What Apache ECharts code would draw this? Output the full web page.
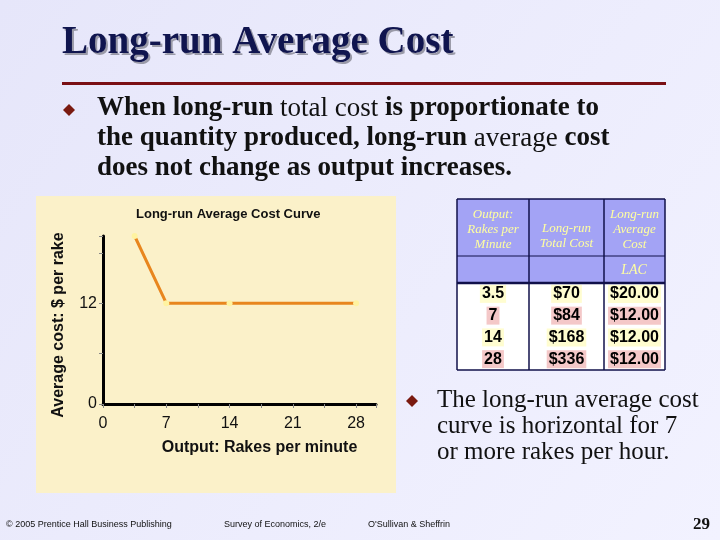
<!DOCTYPE html><html><head><meta charset="utf-8">
<script src="https://cdn.jsdelivr.net/npm/echarts@6/dist/echarts.min.js"></script>
<style>html,body{margin:0;padding:0}#c{width:720px;height:540px}</style></head><body><div id="c"></div>
<script>
const output = [3.5, 7, 14, 28];
const lac = [20, 12, 12, 12];
const xLabels = [0, 7, 14, 21, 28];
const yLabels = [0, 12];
const tableHead = ['Output:\nRakes per\nMinute', 'Long-run\nTotal Cost', 'Long-run\nAverage\nCost'];
const tableRows = [['3.5', '$70', '$20.00'], ['7', '$84', '$12.00'], ['14', '$168', '$12.00'], ['28', '$336', '$12.00']];

const colX = [457, 529, 604, 665];
const rowY0 = 283, rowH = 21.75;
const g = [];
g.push({type:'rect', z:-10, shape:{x:36,y:196,width:360,height:297}, style:{fill:'#FBF1C9'}});
g.push({type:'text', left:64, top:25, style:{text:'Long-run Average Cost', font:'bold 39px "Liberation Serif"', fill:'#9a9aa8'}});
g.push({type:'text', left:62, top:23, style:{text:'Long-run Average Cost', font:'bold 39px "Liberation Serif"', fill:'#10154f'}});
g.push({type:'rect', shape:{x:62,y:82,width:604,height:3}, style:{fill:'#7a0f14'}});
const bullet = (x,y,s)=>g.push({type:'polygon', shape:{points:[[x,y-s],[x+s,y],[x,y+s],[x-s,y]]}, style:{fill:'#7a1a10'}});
bullet(69,110,6); bullet(412,401,6);
const B = 'bold 27px "Liberation Serif"', N = '27px "Liberation Serif"';
g.push({type:'text', left:97, top:95, style:{
  text:'{b|When long-run }{n|total cost}{b| is proportionate to}\n{b|the quantity produced, long-run }{n|average}{b| cost}\n{b|does not change as output increases.}',
  rich:{b:{font:B, fill:'#111', lineHeight:30}, n:{font:N, fill:'#111', lineHeight:30}}}});
g.push({type:'text', left:437, top:387, style:{text:'The long-run average cost\ncurve is horizontal for 7\nor more rakes per hour.', font:'25px "Liberation Serif"', fill:'#111', lineHeight:26}});
g.push({type:'text', left:136, top:208, style:{text:'Long-run Average Cost Curve', font:'bold 13px "Liberation Sans"', fill:'#111'}});
g.push({type:'rect', shape:{x:457,y:199,width:208,height:84}, style:{fill:'#A3A3F5'}});
g.push({type:'rect', shape:{x:457,y:283,width:208,height:87}, style:{fill:'#ffffff'}});
tableHead.forEach((t,i)=>g.push({type:'text', x:(colX[i]+colX[i+1])/2, y:i==1?236:230, style:{text:t, font:'italic 13px "Liberation Serif"', fill:'#FFFFA0', align:'center', verticalAlign:'middle', lineHeight:15}}));
g.push({type:'text', x:634, y:270, style:{text:'LAC', font:'italic 14px "Liberation Serif"', fill:'#FFFFA0', align:'center', verticalAlign:'middle'}});
tableRows.forEach((r,ri)=>r.forEach((t,ci)=>{
  const cx=(colX[ci]+colX[ci+1])/2, cy=rowY0+rowH*(ri+0.5);
  g.push({type:'text', x:cx, y:cy, style:{text:t, font:'bold 16px "Liberation Sans"', fill:'#000', align:'center', verticalAlign:'middle', backgroundColor: ri%2? '#F4C8C8':'#FFFDD0', padding:[1,2]}});
}));
const L = (x1,y1,x2,y2,w)=>g.push({type:'line', shape:{x1,y1,x2,y2}, style:{stroke:'#10104a', lineWidth:w||1.5}});
L(457,199,665,199); L(457,256,665,256,1); L(457,283,665,283,2.5); L(457,370,665,370);
colX.forEach(x=>L(x,199,x,370));
const F='9px "Liberation Sans"';
g.push({type:'text', left:6, top:520, style:{text:'© 2005 Prentice Hall Business Publishing', font:F, fill:'#111'}});
g.push({type:'text', left:224, top:520, style:{text:'Survey of Economics, 2/e', font:F, fill:'#111'}});
g.push({type:'text', left:368, top:520, style:{text:'O\'Sullivan & Sheffrin', font:F, fill:'#111'}});
g.push({type:'text', left:693, top:516, style:{text:'29', font:'bold 17px "Liberation Serif"', fill:'#111'}});

const chart = echarts.init(document.getElementById('c'));
chart.setOption({
  backgroundColor: new echarts.graphic.LinearGradient(0,0,1,1,[{offset:0,color:'#E6E6FA'},{offset:1,color:'#F2F2FF'}]),
  graphic: g,
  grid:{left:103, right:344, top:236, bottom:136},
  xAxis:{type:'value', min:0, max:30.2, interval:3.5,
    name:'Output: Rakes per minute', nameLocation:'middle', nameGap:36,
    nameTextStyle:{fontWeight:'bold', fontSize:16, color:'#111', padding:[0,0,0,40]},
    axisLine:{lineStyle:{color:'#000', width:3}},
    axisTick:{length:4, lineStyle:{color:'#888'}},
    axisLabel:{customValues:xLabels, fontSize:16, color:'#111', margin:12},
    splitLine:{show:false}},
  yAxis:{type:'value', min:0, max:20, interval:6,
    name:'Average cost: $ per rake', nameLocation:'middle', nameGap:36,
    nameTextStyle:{fontWeight:'bold', fontSize:16, color:'#111', padding:[0,0,0,-10]},
    axisLine:{show:true, lineStyle:{color:'#000', width:3}},
    axisTick:{show:true, length:4, lineStyle:{color:'#888'}},
    axisLabel:{customValues:yLabels, fontSize:16, color:'#111', margin:6},
    splitLine:{show:false}},
  series:[{type:'line', data:output.map((x,i)=>[x,lac[i]]), symbol:'circle', symbolSize:6,
    itemStyle:{color:'#FFF3A0'}, lineStyle:{color:'#E8861E', width:3}, animation:false}]
});
</script></body></html>
